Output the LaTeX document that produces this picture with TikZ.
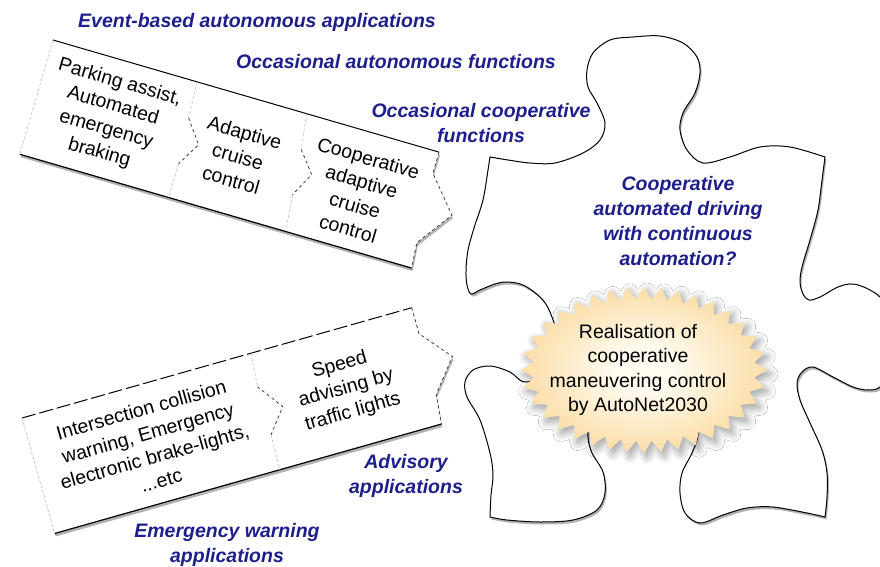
\documentclass[tikz,border=0pt]{standalone}
\usepackage{fontspec}
\setmainfont{Liberation Sans}
\usetikzlibrary{shadows,shadows.blur}

\definecolor{burst1}{RGB}{249,210,138}
\definecolor{burst2}{RGB}{255,251,240}
\pgfdeclareradialshading{glow}{\pgfpoint{0bp}{0bp}}{color(0bp)=(burst2); color(6bp)=(burst2); color(33bp)=(burst1); color(50bp)=(burst1)}

\begin{document}
\begin{tikzpicture}[x=1pt,y=-1pt,
    font=\fontsize{19.5}{24.5}\selectfont,
    paper/.style={fill=white,drop shadow={shadow xshift=1pt,shadow yshift=-3pt,fill=black!60}},
    cell/.style={align=center,inner sep=0pt},
    tag/.style={align=center,inner sep=0pt,text=navy1,font=\fontsize{19.5}{25}\selectfont\bfseries\itshape},
    seam/.style={gray!50,densely dashed,line width=0.6pt},
    fold/.style={black!75,dashed,line width=0.8pt}]
\definecolor{navy1}{RGB}{30,30,140}
\useasboundingbox (0,0) rectangle (880,567);
\clip (0,0) rectangle (880,567);

% puzzle piece
\draw[line width=1pt,fill=white,drop shadow={shadow xshift=1.5pt,shadow yshift=-2.5pt,fill=black!60}]
  (490,157)
  -- plot[smooth,tension=.55] coordinates {(490,157) (508,160) (530,163) (555,163) (583,153) (600,140) (605,123) (597,103) (588,87) (587,70) (593,53) (610,40) (633,37) (660,36) (683,43) (697,57) (700,73) (695,93) (683,113) (680,130) (687,150) (703,163) (730,157) (760,147) (790,147) (825,157)}
  -- plot[smooth,tension=.55] coordinates {(825,157) (822,180) (818,210) (810,240) (802,267) (800,282) (803,294) (809,300) (820,297) (838,287) (853,284) (870,290) (884,302) (898,335) (893,370) (880,387) (868,390) (853,387) (833,377) (813,367) (802,372) (797,383) (800,400) (810,423) (822,450) (827,473) (827,497) (825,517)}
  -- plot[smooth,tension=.55] coordinates {(825,517) (807,513) (773,507) (747,508) (723,515) (700,523) (685,513) (680,493) (682,473) (692,453) (698,435) (695,410) (670,395) (640,392) (610,397) (590,415) (588,437) (592,453) (603,472) (605,493) (597,510) (573,520) (540,522) (507,520) (490,517)}
  -- plot[smooth,tension=.55] coordinates {(490,517) (491,495) (493,475) (490,453) (480,420) (467,397) (465,382) (473,370) (490,366) (510,372) (525,382) (548,372) (558,342) (550,312) (540,297) (523,285) (507,282) (495,284) (480,290) (471,294) (467,285) (466,270) (468,250) (474,228) (483,200) (488,170) (490,157)}
  -- cycle;

% upper strip
\begin{scope}[shift={(53,40)},rotate=-16.2,transform shape]
\path[paper] (0,0) -- (402,0) -- (402,22) -- (432,57) -- (406,93) -- (408,119) -- (0,119) -- cycle;
\draw[line width=1pt] (0,0) -- (402,0);
\draw[line width=1.2pt] (0,119) -- (408,119);
\draw[seam] (0,0) -- (0,119);
\draw[fold] (402,0) -- (402,22) -- (432,57) -- (406,93) -- (408,119);
\draw[seam] (150,0) -- (152,37) (155,84) -- (155,119);
\draw[fold] (152,37) -- (169,60) -- (155,84);
\draw[seam] (264,0) -- (269,36) (273,82) -- (277,119);
\draw[fold] (269,36) -- (286,57) -- (273,82);
\node[cell] (park) at (76,59) {Parking assist,\\Automated\\emergency\\braking};
\node[cell] (acc) at (210,60) {Adaptive\\cruise\\control};
\node[cell] (cacc) at (336,62) {Cooperative\\adaptive\\cruise\\control};
\end{scope}

% lower strip
\begin{scope}[shift={(22,418)},rotate=15.8,transform shape]
\path[paper] (0,0) -- (405,0) -- (405,27) -- (431,58) -- (405,90) -- (402,120) -- (0,120) -- cycle;
\draw[line width=1pt,dash pattern=on 14pt off 4pt] (0,0) -- (405,0);
\draw[line width=1.2pt] (0,120) -- (402,120);
\draw[seam] (0,0) -- (0,120);
\draw[fold] (405,0) -- (405,27) -- (431,58) -- (405,90) -- (402,120);
\draw[seam] (238,0) -- (235,34) (235,84) -- (234,120);
\draw[fold] (235,34) -- (254,60) -- (235,84);
\node[cell] (icw) at (117,61) {Intersection collision\\warning, Emergency\\electronic brake-lights,\\...etc};
\node[cell] (glosa) at (320,60) {Speed\\advising by\\traffic lights};
\end{scope}

% starburst
\begin{scope}[shift={(644,370)}]
\path[shading=glow,
    blur shadow={shadow xshift=3pt,shadow yshift=-4pt,shadow blur radius=8pt,shadow blur steps=12,shadow opacity=40}]
  (123,0)
  \foreach \i [evaluate=\i as \t using {\i*5+5.8*sin(10*\i)},
               evaluate=\i as \rx using {mod(\i,2)==1 ? 111 : 123},
               evaluate=\i as \ry using {mod(\i,2)==1 ? 71 : 83}] in {1,...,71}
    { -- ({\rx*cos(\t)},{\ry*sin(\t)}) }
  -- cycle;
\end{scope}
\node[cell] (autonet) at (638,370) {Realisation of\\cooperative\\maneuvering control\\by AutoNet2030};

\node[tag] (event) at (257,22) {Event-based autonomous applications};
\node[tag] (occauto) at (396,62) {Occasional autonomous functions};
\node[tag] (occcoop) at (481,123) {Occasional cooperative\\functions};
\node[tag] (coop) at (678,221) {Cooperative\\automated driving\\with continuous\\automation?};
\node[tag] (advis) at (406,476) {Advisory\\applications};
\node[tag] (emerg) at (227,545) {Emergency warning\\applications};
\end{tikzpicture}
\end{document}
